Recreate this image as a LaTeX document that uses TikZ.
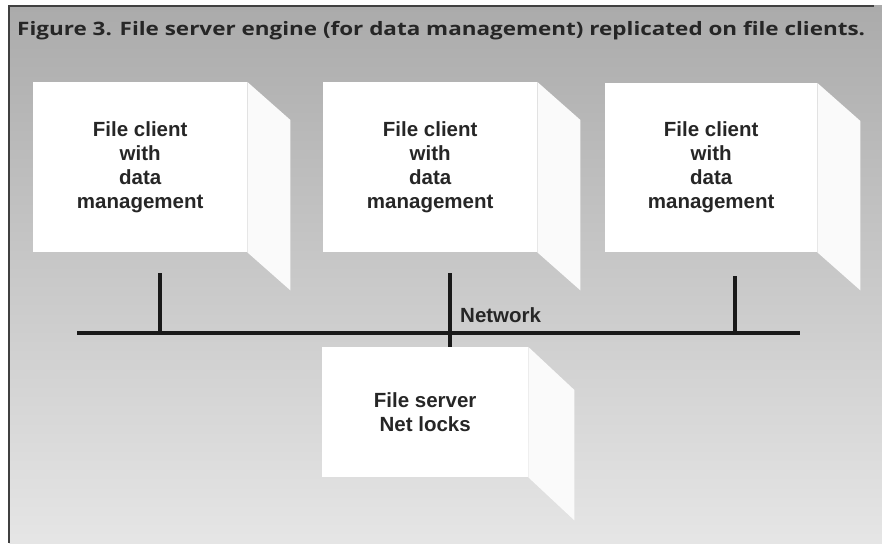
\documentclass[tikz,border=0pt]{standalone}
\usepackage{fontspec}
\setmainfont{Liberation Sans}
\newfontfamily\titlefont{Open Sans}
\begin{document}
\begin{tikzpicture}[x=1pt,y=-1pt,
  boxtext/.style={font=\fontsize{20.5}{24}\selectfont\bfseries, text=black!85},
  clientbox/.style={boxtext, fill=white, minimum width=214pt, minimum height=170pt, inner sep=0pt, anchor=north west, align=center},
  serverbox/.style={clientbox, minimum width=206pt, minimum height=130pt},
  sideface/.style={fill=black!2},
  netline/.style={line width=3.2pt, black!90},
  frameline/.style={line width=1.6pt, black!75}]
\useasboundingbox (0,0) rectangle (882,543);
\shade[top color=black!33, bottom color=black!10] (9,6) rectangle (882,543);
\draw[frameline] (874,6) -- (9,6) -- (9,543);
\node[anchor=west, inner sep=0pt, text=black!85] (title) at (17,31) {\resizebox{848pt}{\height}{\titlefont\fontsize{18.5}{23}\selectfont\bfseries Figure 3. File server engine (for data management) replicated on file clients.}};
% client boxes
\node[clientbox] (c1) at (33,82) {File client\\with\\data\\management};
\node[clientbox] (c2) at (323,82) {File client\\with\\data\\management};
\node[clientbox, minimum width=212pt, minimum height=169pt] (c3) at (605,83) {File client\\with\\data\\management};
\node[serverbox] (srv) at (322,347) {File server\\Net locks};
% side faces
\foreach \b in {c1,c2,c3}{
  \fill[sideface] (\b.north east) -- ([shift={(43,38)}]\b.north east) -- ([shift={(43,38)}]\b.south east) -- (\b.south east) -- cycle;
}
\fill[sideface] (srv.north east) -- ([shift={(46,43)}]srv.north east) -- ([shift={(46,43)}]srv.south east) -- (srv.south east) -- cycle;
% network
\coordinate (netL) at (77,333);
\coordinate (netR) at (800,333);
\coordinate (d1) at (160,273);
\coordinate (d2) at (450,273);
\coordinate (d3) at (735,276);
\draw[netline] (netL) -- (netR);
\draw[netline] (d1) -- (d1 |- netL);
\draw[netline] (d3) -- (d3 |- netL);
\draw[netline] (d2) -- (d2 |- srv.north);
\node[boxtext, anchor=base west, inner sep=0pt] (net) at (460,322) {Network};
\end{tikzpicture}
\end{document}
